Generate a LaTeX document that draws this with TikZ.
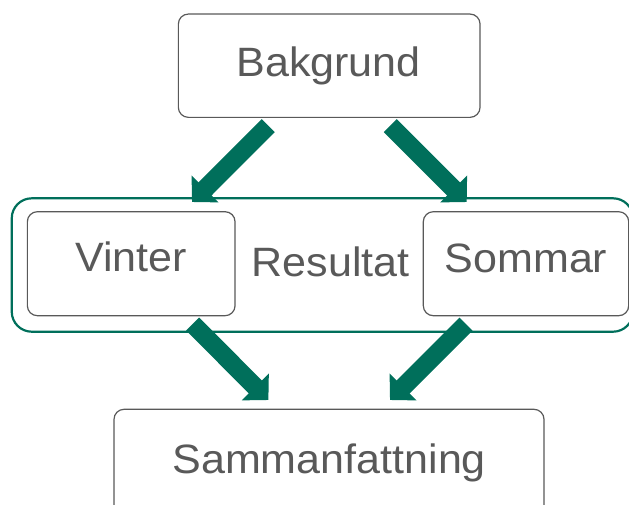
\documentclass[tikz,border=0pt]{standalone}
\usepackage{fontspec}
\setmainfont{Liberation Sans}[FakeStretch=1.05]
\usetikzlibrary{arrows.meta}
\definecolor{grn}{RGB}{0,111,91}
\definecolor{txt}{RGB}{89,89,89}
\begin{document}
\begin{tikzpicture}[x=1pt,y=-1pt,
  box/.style={draw=txt,line width=1.2pt,rounded corners=10pt,fill=white,inner sep=0pt},
  grpbox/.style={draw=grn,line width=2.2pt,rounded corners=20pt,inner sep=0pt},
  lbl/.style={text=txt,font=\fontsize{41}{49}\selectfont,anchor=base,inner sep=0pt},
  blk/.style={draw=grn,line width=18.4pt,-{Triangle[width=37pt,length=18.5pt]}}
]
\useasboundingbox (0,0) rectangle (629,504);
\begin{scope}
\clip (0,0) rectangle (629,504);
\node[grpbox,minimum width=621.3pt,minimum height=133.4pt] (grp) at (322.4,265) {};
\node[box,minimum width=301.7pt,minimum height=103.3pt] (bak) at (329.2,65.7) {};
\node[box,minimum width=207.7pt,minimum height=104pt] (vin) at (131.2,263.7) {};
\node[box,minimum width=205.4pt,minimum height=104pt] (som) at (526,263.7) {};
\node[box,minimum width=430pt,minimum height=107pt] (sam) at (329,462.8) {};
\end{scope}
\node[lbl] (tbak) at (328.5,76.7) {Bakgrund};
\node[lbl] (tvin) at (131.2,271.7) {Vinter};
\node[lbl] (tsom) at (526,272.5) {Sommar};
\node[lbl] (tres) at (330.8,276.7) {Resultat};
\node[lbl] (tsam) at (329.2,473.3) {Sammanfattning};
\coordinate (a1s) at (268.3,125.6);
\coordinate (a1e) at (192,202);
\coordinate (a2s) at (390.3,125.6);
\coordinate (a2e) at (466.7,202);
\coordinate (a3s) at (192.6,324);
\coordinate (a3e) at (268.4,400);
\coordinate (a4s) at (466,324);
\coordinate (a4e) at (390,400);
\draw[blk] (a1s) -- (a1e);
\draw[blk] (a2s) -- (a2e);
\draw[blk] (a3s) -- (a3e);
\draw[blk] (a4s) -- (a4e);
\end{tikzpicture}
\end{document}
